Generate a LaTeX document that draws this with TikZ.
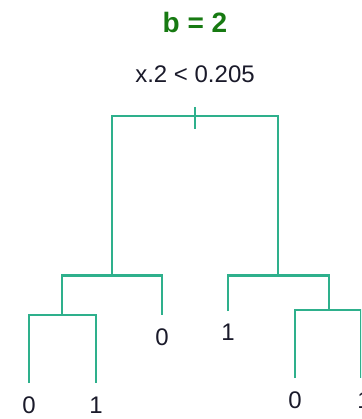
\documentclass[tikz,border=0pt]{standalone}
\usepackage{fontspec}
\setmainfont{Liberation Sans}
\definecolor{branch}{HTML}{2EB08C}
\definecolor{titlegreen}{HTML}{177A12}
\definecolor{labelink}{HTML}{1A1A2A}
\tikzset{
  edge/.style={draw=branch, line width=2.8pt, line cap=butt, line join=miter},
  lbl/.style={anchor=base, inner sep=0pt, text=labelink, font=\fontsize{24}{28}\selectfont},
  ttl/.style={anchor=base, inner sep=0pt, text=titlegreen, font=\bfseries\fontsize{28}{32}\selectfont}
}
\begin{document}
\begin{tikzpicture}[x=1pt, y=-1pt]
  \useasboundingbox (0,0) rectangle (361,419);
  \clip (0,0) rectangle (361,419);
  % texts
  \node[ttl] (title) at (195,33) {b = 2};
  \node[lbl] (split) at (195,83) {x.2 < 0.205};
  % joints
  \coordinate (rootL) at (112,116);
  \coordinate (rootR) at (278,116);
  \coordinate (tickT) at (195,107);
  \coordinate (tickB) at (195,129);
  \coordinate (Lj) at (112,275.5);
  \coordinate (Rj) at (278,275.5);
  \coordinate (LLbarL) at (62,275.5);
  \coordinate (LRbarR) at (162,275.5);
  \coordinate (LLj) at (62,315);
  \coordinate (LLa) at (29,315);
  \coordinate (LLb) at (96,315);
  \coordinate (LLaEnd) at (29,383);
  \coordinate (LLbEnd) at (96,383);
  \coordinate (LRend) at (162,315);
  \coordinate (RLbar) at (228,275.5);
  \coordinate (RRbar) at (329,275.5);
  \coordinate (RLend) at (228,311);
  \coordinate (RRj) at (329,310);
  \coordinate (RRa) at (295,310);
  \coordinate (RRb) at (361,310);
  \coordinate (RRaEnd) at (295,378);
  \coordinate (RRbEnd) at (361,378);
  % leaf labels
  \node[lbl] (leafA) at (29,413) {0};
  \node[lbl] (leafB) at (96,413) {1};
  \node[lbl] (leafC) at (162,345) {0};
  \node[lbl] (leafD) at (228,340) {1};
  \node[lbl] (leafE) at (295,408) {0};
  \node[lbl] (leafF) at (364,408) {1};
  % tree
  \draw[edge] (Lj) -- (rootL) -- (rootR) -- (Rj);
  \draw[edge] (tickT) -- (tickB);
  \draw[edge] (LLj) -- (LLbarL) -- (LRbarR) -- (LRend);
  \draw[edge] (LLaEnd) -- (LLa) -- (LLb) -- (LLbEnd);
  \draw[edge] (RLend) -- (RLbar) -- (RRbar) -- (RRj);
  \draw[edge] (RRaEnd) -- (RRa) -- (RRb) -- (RRbEnd);
\end{tikzpicture}
\end{document}
